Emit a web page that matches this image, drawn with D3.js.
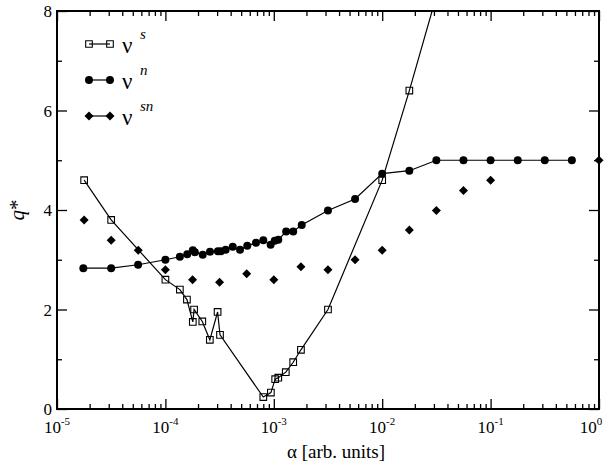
<!DOCTYPE html>
<html>
<head>
<meta charset="utf-8">
<script src="https://cdn.jsdelivr.net/npm/d3@7"></script>
<style>
  body { margin: 0; background: #fff; }
  svg { display: block; }
</style>
</head>
<body>
<svg id="chart" width="609" height="469"></svg>
<script>
// nu^s  (open squares, joined)
const sAlpha = [1.78e-5, 3.16e-5, 1e-4, 1.36e-4, 1.58e-4, 1.79e-4, 1.84e-4, 2.19e-4, 2.57e-4, 3.03e-4,
  3.19e-4, 8.0e-4, 9.4e-4, 1.03e-3, 1.1e-3, 1.29e-3, 1.51e-3, 1.78e-3, 3.16e-3, 1e-2, 1.78e-2, 3.16e-2];
const sValues = [4.6, 3.8, 2.6, 2.4, 2.2, 1.75, 2.0, 1.76, 1.39, 1.95,
  1.49, 0.24, 0.33, 0.6, 0.63, 0.74, 0.94, 1.19, 2.0, 4.6, 6.4, 8.3];

// nu^n  (filled circles, joined)
const nAlpha = [1.75e-5, 3.16e-5, 5.6e-5, 1e-4, 1.36e-4, 1.59e-4, 1.79e-4, 1.87e-4, 2.21e-4, 2.58e-4,
  3.05e-4, 3.25e-4, 3.6e-4, 4.18e-4, 4.88e-4, 5.69e-4, 6.85e-4, 8.0e-4, 9.35e-4, 1.02e-3,
  1.1e-3, 1.3e-3, 1.51e-3, 1.81e-3, 3.16e-3, 5.62e-3, 1e-2, 1.78e-2, 3.16e-2, 5.62e-2,
  0.1, 0.178, 0.316, 0.562];
const nValues = [2.83, 2.83, 2.9, 3.0, 3.06, 3.11, 3.19, 3.15, 3.1, 3.16,
  3.17, 3.17, 3.2, 3.26, 3.2, 3.28, 3.34, 3.39, 3.3, 3.38,
  3.4, 3.57, 3.57, 3.7, 3.99, 4.22, 4.73, 4.79, 5.0, 5.0,
  5.0, 5.0, 5.0, 5.0];

// nu^sn (filled diamonds, no line)
const snAlpha = [1.78e-5, 3.16e-5, 5.62e-5, 1e-4, 1.78e-4, 3.16e-4, 5.62e-4, 1e-3, 1.78e-3, 3.16e-3,
  5.62e-3, 1e-2, 1.78e-2, 3.16e-2, 5.62e-2, 0.1, 1];
const snValues = [3.8, 3.39, 3.19, 2.8, 2.6, 2.55, 2.72, 2.6, 2.86, 2.8,
  3.0, 3.19, 3.6, 3.99, 4.39, 4.6, 5.0];

const xMajor = [1e-5, 1e-4, 1e-3, 1e-2, 1e-1, 1];
const xExponents = ["-5", "-4", "-3", "-2", "-1", "0"];
const yMajor = [0, 2, 4, 6, 8];
const yMinor = [1, 3, 5, 7];

const serif = "'Liberation Serif', 'Times New Roman', serif";

const svg = d3.select("#chart");
const plotLeft = 57, plotRight = 599, plotTop = 11, plotBottom = 409;

const x = d3.scaleLog().domain([1e-5, 1]).range([plotLeft, plotRight]);
const y = d3.scaleLinear().domain([0, 8]).range([plotBottom, plotTop]);

const xMinor = x.ticks().filter((t) => !xMajor.some((m) => Math.abs(m - t) / t < 1e-6));

svg.append("clipPath").attr("id", "plotClip")
  .append("rect")
  .attr("x", plotLeft).attr("y", plotTop)
  .attr("width", plotRight - plotLeft).attr("height", plotBottom - plotTop);

// inward ticks on all four sides
const tickGroup = (axis, tx, ty) => {
  const g = svg.append("g").attr("transform", "translate(" + tx + "," + ty + ")").call(axis);
  g.select(".domain").remove();
  g.selectAll("line").attr("stroke", "#000").attr("stroke-width", 1.3);
  g.selectAll("text").remove();
};
tickGroup(d3.axisBottom(x).tickValues(xMajor).tickSize(-10), 0, plotBottom);
tickGroup(d3.axisBottom(x).tickValues(xMinor).tickSize(-5), 0, plotBottom);
tickGroup(d3.axisTop(x).tickValues(xMajor).tickSize(-10), 0, plotTop);
tickGroup(d3.axisTop(x).tickValues(xMinor).tickSize(-5), 0, plotTop);
tickGroup(d3.axisLeft(y).tickValues(yMajor).tickSize(-10), plotLeft, 0);
tickGroup(d3.axisLeft(y).tickValues(yMinor).tickSize(-5), plotLeft, 0);
tickGroup(d3.axisRight(y).tickValues(yMajor).tickSize(-10), plotRight, 0);
tickGroup(d3.axisRight(y).tickValues(yMinor).tickSize(-5), plotRight, 0);

// frame
svg.append("rect")
  .attr("x", plotLeft).attr("y", plotTop)
  .attr("width", plotRight - plotLeft).attr("height", plotBottom - plotTop)
  .attr("fill", "none").attr("stroke", "#000").attr("stroke-width", 2);

const addText = (sel) => sel.append("text")
  .attr("font-family", serif)
  .attr("fill", "#000");

// x tick labels 10^n
xMajor.forEach((v, i) => {
  const shift = i === xMajor.length - 1 ? -8 : 0;
  const t = addText(svg)
    .attr("x", x(v) + shift).attr("y", 433)
    .attr("text-anchor", "middle")
    .attr("font-size", 17);
  t.append("tspan").text("10");
  t.append("tspan").attr("dy", -8).attr("font-size", 11).text(xExponents[i]);
});

// y tick labels
yMajor.forEach((d) => {
  addText(svg)
    .attr("x", 52).attr("y", y(d) + 6)
    .attr("text-anchor", "end")
    .attr("font-size", 17)
    .text(d);
});

// axis titles
addText(svg)
  .attr("x", 336).attr("y", 458)
  .attr("text-anchor", "middle")
  .attr("font-size", 19)
  .text("α [arb. units]");

const yTitle = addText(svg)
  .attr("transform", "translate(24,210) rotate(-90)")
  .attr("text-anchor", "middle")
  .attr("font-size", 21);
yTitle.append("tspan").attr("font-style", "italic").text("q");
yTitle.append("tspan").text("*");

const line = d3.line().x((d) => x(d[0])).y((d) => y(d[1]));
const sData = sAlpha.map((a, i) => [a, sValues[i]]);
const nData = nAlpha.map((a, i) => [a, nValues[i]]);
const snData = snAlpha.map((a, i) => [a, snValues[i]]);

const squarePath = d3.symbol().type(d3.symbolSquare).size(44);
const circlePath = d3.symbol().type(d3.symbolCircle).size(50);
const diamondPath = "M0,-4.5L4.5,0L0,4.5L-4.5,0Z";

const drawSquares = (g, data, px, py) => {
  g.selectAll(null).data(data).enter().append("path")
    .attr("d", squarePath)
    .attr("transform", (d) => "translate(" + px(d) + "," + py(d) + ")")
    .attr("fill", "none").attr("stroke", "#000").attr("stroke-width", 1.1);
};
const drawCircles = (g, data, px, py) => {
  g.selectAll(null).data(data).enter().append("path")
    .attr("d", circlePath)
    .attr("transform", (d) => "translate(" + px(d) + "," + py(d) + ")")
    .attr("fill", "#000");
};
const drawDiamonds = (g, data, px, py) => {
  g.selectAll(null).data(data).enter().append("path")
    .attr("d", diamondPath)
    .attr("transform", (d) => "translate(" + px(d) + "," + py(d) + ")")
    .attr("fill", "#000");
};

const plot = svg.append("g");
plot.append("path").datum(sData)
  .attr("clip-path", "url(#plotClip)")
  .attr("d", line).attr("fill", "none").attr("stroke", "#000").attr("stroke-width", 1.2);
drawSquares(plot.append("g").attr("clip-path", "url(#plotClip)"), sData, (d) => x(d[0]), (d) => y(d[1]));

plot.append("path").datum(nData)
  .attr("d", line).attr("fill", "none").attr("stroke", "#000").attr("stroke-width", 1.2);
drawCircles(plot.append("g"), nData, (d) => x(d[0]), (d) => y(d[1]));

drawDiamonds(plot.append("g"), snData, (d) => x(d[0]), (d) => y(d[1]));

// legend
const legendNames = ["s", "n", "sn"];
const legendRows = [44, 80, 116];
const legend = svg.append("g");
legendNames.forEach((name, i) => {
  const ly = legendRows[i];
  legend.append("line")
    .attr("x1", 89).attr("x2", 110).attr("y1", ly).attr("y2", ly)
    .attr("stroke", "#000").attr("stroke-width", 1.2);
  const pts = [89, 110];
  if (i === 0) drawSquares(legend, pts, (d) => d, () => ly);
  if (i === 1) drawCircles(legend, pts, (d) => d, () => ly);
  if (i === 2) drawDiamonds(legend, pts, (d) => d, () => ly);
  addText(legend)
    .attr("x", 122).attr("y", ly + 9)
    .attr("font-size", 23)
    .text("ν");
  addText(legend)
    .attr("x", 140).attr("y", ly - 5)
    .attr("font-size", 15).attr("font-style", "italic")
    .text(name);
});
</script>
</body>
</html>
